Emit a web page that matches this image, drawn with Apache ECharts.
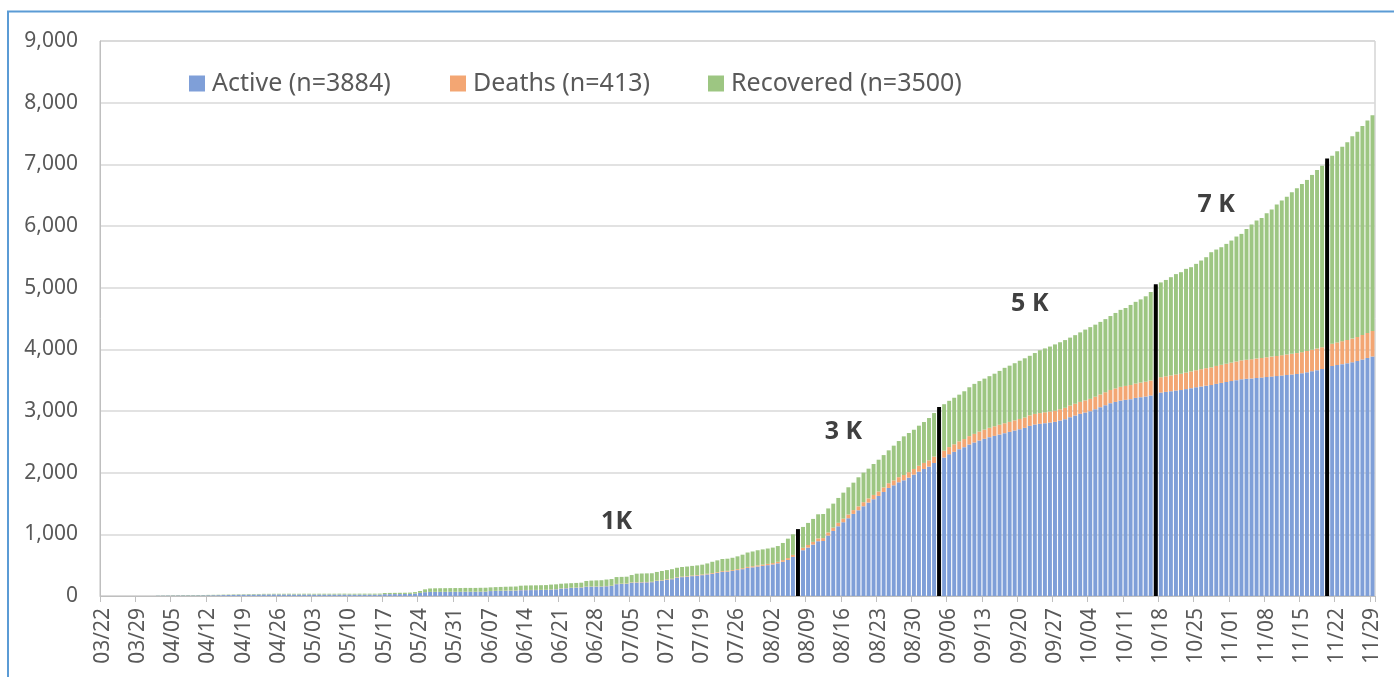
<!DOCTYPE html>
<html>
<head>
<meta charset="utf-8">
<script src="https://cdn.jsdelivr.net/npm/echarts@6/dist/echarts.min.js"></script>
<style>
html,body{margin:0;padding:0;background:#fff;}
#chart{width:1394px;height:677px;}
</style>
</head>
<body>
<div id="chart"></div>
<script>
const categories = [
'03/22','03/23','03/24','03/25','03/26','03/27','03/28','03/29','03/30','03/31',
'04/01','04/02','04/03','04/04','04/05','04/06','04/07','04/08','04/09','04/10','04/11','04/12','04/13','04/14','04/15','04/16','04/17','04/18','04/19','04/20','04/21','04/22','04/23','04/24','04/25','04/26','04/27','04/28','04/29','04/30',
'05/01','05/02','05/03','05/04','05/05','05/06','05/07','05/08','05/09','05/10','05/11','05/12','05/13','05/14','05/15','05/16','05/17','05/18','05/19','05/20','05/21','05/22','05/23','05/24','05/25','05/26','05/27','05/28','05/29','05/30','05/31',
'06/01','06/02','06/03','06/04','06/05','06/06','06/07','06/08','06/09','06/10','06/11','06/12','06/13','06/14','06/15','06/16','06/17','06/18','06/19','06/20','06/21','06/22','06/23','06/24','06/25','06/26','06/27','06/28','06/29','06/30',
'07/01','07/02','07/03','07/04','07/05','07/06','07/07','07/08','07/09','07/10','07/11','07/12','07/13','07/14','07/15','07/16','07/17','07/18','07/19','07/20','07/21','07/22','07/23','07/24','07/25','07/26','07/27','07/28','07/29','07/30','07/31',
'08/01','08/02','08/03','08/04','08/05','08/06','08/07','08/08','08/09','08/10','08/11','08/12','08/13','08/14','08/15','08/16','08/17','08/18','08/19','08/20','08/21','08/22','08/23','08/24','08/25','08/26','08/27','08/28','08/29','08/30','08/31',
'09/01','09/02','09/03','09/04','09/05','09/06','09/07','09/08','09/09','09/10','09/11','09/12','09/13','09/14','09/15','09/16','09/17','09/18','09/19','09/20','09/21','09/22','09/23','09/24','09/25','09/26','09/27','09/28','09/29','09/30',
'10/01','10/02','10/03','10/04','10/05','10/06','10/07','10/08','10/09','10/10','10/11','10/12','10/13','10/14','10/15','10/16','10/17','10/18','10/19','10/20','10/21','10/22','10/23','10/24','10/25','10/26','10/27','10/28','10/29','10/30','10/31',
'11/01','11/02','11/03','11/04','11/05','11/06','11/07','11/08','11/09','11/10','11/11','11/12','11/13','11/14','11/15','11/16','11/17','11/18','11/19','11/20','11/21','11/22','11/23','11/24','11/25','11/26','11/27','11/28','11/29'
];

const active = [
0,0,0,0,0,0,0,0,0,0,0,
3,4,5,6,7,8,8,
8,9,10,11,12,13,
15,17,18,20,21,22,
23,24,25,25,26,
25,25,25,24,24,24,24,23,23,23,23,23,23,23,22,22,22,22,22,22,22,
30,30,31,31,32,33,
38,50,62,
65,66,66,66,67,67,67,68,68,68,69,70,
80,82,84,85,86,87,
94,95,96,96,97,98,
104,108,
120,125,130,134,138,
148,150,151,152,
158,162,
192,195,197,
215,218,220,222,224,
243,248,262,272,298,306,314,322,330,338,350,360,375,390,395,405,420,435,455,465,478,488,500,512,530,555,585,634,
690,742,785,
834,888,892,980,1055,1131,1196,1261,1331,1390,1455,1515,1569,1623,1687,1752,1795,1844,1876,1919,1968,2017,2060,2098,2157,2205,2245,2298,
2338,2381,2414,2457,2489,2522,2549,2576,2597,2619,2641,2662,2684,2705,2727,2759,2781,2792,2803,2813,2824,2846,2867,2900,2927,2954,2975,2997,3029,3062,3094,3127,3148,3170,3181,3192,3213,3224,3235,3251,3278,3299,3310,3321,3332,
3340,3355,3370,3385,3398,3410,3420,3440,3455,3470,3485,3500,3515,3522,3528,3535,3542,3550,3558,3566,3575,3583,3592,3600,3612,3628,3645,3662,3680,3700,3730,3745,3760,3775,3790,3810,3835,3860,3884
];

const deaths = [
0,0,0,0,0,0,0,0,0,0,0,
0,0,0,1,1,1,1,
1,1,1,1,1,1,
1,1,1,1,1,1,
1,1,1,1,1,
1,1,1,1,1,1,1,1,1,1,1,1,1,1,1,1,1,1,1,1,1,
1,1,1,1,1,1,
1,1,1,
2,2,2,2,2,2,2,2,2,2,2,2,
2,2,2,3,3,3,
3,3,3,3,3,3,
3,3,
4,4,4,4,4,
4,4,4,4,
5,5,
5,5,6,
6,6,6,6,7,
7,7,8,8,8,9,9,10,10,11,11,12,12,13,14,14,15,16,17,18,19,20,21,22,24,27,30,33,
36,40,42,
44,46,47,50,53,56,58,60,62,64,66,68,70,72,74,77,80,83,86,89,92,95,98,101,104,108,112,117,
122,127,131,135,140,145,149,152,155,158,160,162,164,166,168,170,172,174,176,178,180,182,185,188,191,194,197,200,203,206,210,214,218,222,226,229,233,237,240,243,246,249,252,256,260,
264,268,272,276,280,284,288,291,294,297,300,303,306,309,312,315,318,321,324,327,330,333,336,339,342,345,348,351,354,357,362,367,372,378,384,390,397,405,413
];

const recovered = [
0,0,0,0,0,0,0,0,0,0,0,
2,3,3,4,4,5,5,
5,5,5,6,6,6,
6,6,7,7,7,8,
8,8,9,9,9,
10,10,11,11,11,12,12,12,13,13,13,13,14,14,14,14,15,15,15,15,16,
18,19,19,20,20,21,
24,30,45,
55,57,58,59,59,60,60,61,61,61,62,62,
58,60,61,62,63,64,
70,72,73,74,75,76,
78,78,
75,75,74,74,74,
92,96,98,100,
104,108,
110,110,110,
119,138,139,139,138,
140,150,150,155,152,155,155,156,156,159,167,183,191,197,196,201,208,219,233,239,245,248,249,251,256,278,315,333,
339,338,358,
372,391,391,390,390,403,422,442,445,471,479,482,502,515,524,533,563,586,627,635,636,650,663,687,706,717,753,750,
755,757,775,793,811,818,827,837,853,873,899,911,927,944,960,966,987,1019,1036,1054,1076,1087,1098,1102,1112,1127,1148,1163,1168,1177,1186,1199,1224,1248,1263,1299,1324,1349,1385,1436,1506,1537,1563,1593,1628,
1647,1682,1690,1725,1762,1800,1867,1887,1907,1943,1979,2026,2051,2122,2183,2238,2271,2336,2384,2454,2507,2560,2619,2673,2728,2774,2835,2896,2945,2983,3049,3099,3155,3204,3280,3330,3388,3445,3500
];

// black milestone bars (date -> height)
const milestoneDates = ['08/07','09/04','10/17','11/20'];
const milestoneValues = [1085, 3064, 5055, 7095];
// milestone text annotations
const noteLabels = ['1K','3 K','5 K','7 K'];
const noteDates = ['07/02','08/16','09/22','10/29'];
const noteValues = [1196, 2655, 4745, 6350];

const seriesNames = ['Active (n=3884)','Deaths (n=413)','Recovered (n=3500)'];
const yTicks = [0,1000,2000,3000,4000,5000,6000,7000,8000,9000];

const milestoneData = categories.map(c => {
  const i = milestoneDates.indexOf(c);
  return i >= 0 ? milestoneValues[i] : null;
});

const FONT = '"Noto Sans", "Open Sans", sans-serif';
const colors = ['#7F9FD8', '#F3A673', '#9DC682'];

const chart = echarts.init(document.getElementById('chart'), null, {renderer: 'canvas'});

const legendCommon = {
  icon: 'rect', itemWidth: 16, itemHeight: 16, itemGap: 0,
  top: 66,
  textStyle: {fontFamily: FONT, fontSize: 25, color: '#595959', padding: [0,0,0,2]},
  selectedMode: false
};

chart.setOption({
  animation: false,
  backgroundColor: '#fff',
  graphic: [{
    type: 'rect', silent: true, z: 0,
    shape: {x: 8, y: 11.5, width: 1500, height: 800},
    style: {fill: 'none', stroke: '#5B9BD5', lineWidth: 2}
  }],
  legend: [
    Object.assign({}, legendCommon, {left: 184, data: [seriesNames[0]]}),
    Object.assign({}, legendCommon, {left: 445, data: [seriesNames[1]]}),
    Object.assign({}, legendCommon, {left: 703, data: [seriesNames[2]]})
  ],
  grid: {
    left: 100, right: 19, top: 41, bottom: 81,
    show: true, borderColor: '#bfbfbf', borderWidth: 1, backgroundColor: 'transparent'
  },
  xAxis: {
    type: 'category',
    data: categories,
    boundaryGap: true,
    axisLine: {show: true, lineStyle: {color: '#bfbfbf', width: 1}},
    axisTick: {show: true, interval: 6, length: 6, alignWithLabel: false, lineStyle: {color: '#bfbfbf'}},
    axisLabel: {interval: 6, rotate: 90, fontFamily: FONT, fontSize: 21, color: '#595959', margin: 12},
    splitLine: {show: false}
  },
  yAxis: {
    type: 'value',
    min: yTicks[0], max: yTicks[yTicks.length - 1], interval: 1000,
    axisLine: {show: true, lineStyle: {color: '#bfbfbf', width: 1}},
    axisTick: {show: false},
    axisLabel: {
      fontFamily: FONT, fontSize: 21, color: '#595959', margin: 22,
      formatter: v => v.toLocaleString('en-US')
    },
    splitLine: {show: true, lineStyle: {color: '#d9d9d9', width: 1.5}}
  },
  series: [
    {name: seriesNames[0], type: 'bar', stack: 'total', data: active,
     itemStyle: {color: colors[0]}, barCategoryGap: '22%', barGap: '-100%'},
    {name: seriesNames[1], type: 'bar', stack: 'total', data: deaths,
     itemStyle: {color: colors[1]}, barCategoryGap: '22%', barGap: '-100%'},
    {name: seriesNames[2], type: 'bar', stack: 'total', data: recovered,
     itemStyle: {color: colors[2]}, barCategoryGap: '22%', barGap: '-100%'},
    {name: 'milestones', type: 'bar', data: milestoneData, z: 5,
     itemStyle: {color: '#000'}, barCategoryGap: '22%', barGap: '-100%',
     markPoint: {
       symbol: 'circle', symbolSize: 1,
       itemStyle: {color: 'rgba(0,0,0,0)'},
       label: {show: true, position: 'inside', fontFamily: FONT, fontSize: 25, fontWeight: 'bold', color: '#404040',
               formatter: p => p.name},
       data: noteLabels.map((t, i) => ({name: t, coord: [noteDates[i], noteValues[i]]}))
     }}
  ]
});
</script>
</body>
</html>
